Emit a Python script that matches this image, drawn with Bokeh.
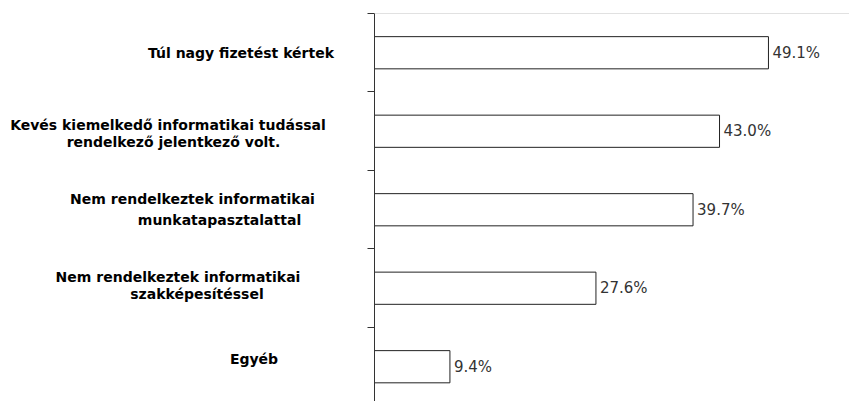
from bokeh.plotting import figure
from bokeh.layouts import row
from bokeh.models import Range1d, FixedTicker, Span, ColumnDataSource
from bokeh.core.properties import value
from bokeh.embed import file_html
from bokeh.resources import INLINE

# ---- data ----
categories = [
    "Túl nagy fizetést kértek",
    "Kevés kiemelkedő informatikai tudással rendelkező jelentkező volt.",
    "Nem rendelkeztek informatikai munkatapasztalattal",
    "Nem rendelkeztek informatikai szakképesítéssel",
    "Egyéb",
]
category_lines = [
    ["Túl nagy fizetést kértek"],
    ["Kevés kiemelkedő informatikai tudással", "rendelkező jelentkező volt."],
    ["Nem rendelkeztek informatikai", "munkatapasztalattal"],
    ["Nem rendelkeztek informatikai", "szakképesítéssel"],
    ["Egyéb"],
]
percentages = [49.1, 43.0, 39.7, 27.6, 9.4]
category_boundaries = [1, 2, 3, 4, 5]

# ---- label layout (styling in pixels: line centre x, vertical pixel offset; negative = up) ----
line_layout = [
    [(240.5, 0)],
    [(167.5, -6), (173, 11)],
    [(192, -11), (219, 10)],
    [(177.5, -11), (196.5, 6)],
    [(253.5, -8)],
]

n = len(categories)
ypos = [n - i - 0.5 for i in range(n)]
texts = [f"{v:.1f}%" for v in percentages]

y_range = Range1d(0.057, 5)
LEFT_W = 354

# ---- left panel: category labels ----
lx, ly, lt, lo = [], [], [], []
for yc, lines, lay in zip(ypos, category_lines, line_layout):
    for txt, (cx, dy) in zip(lines, lay):
        lx.append(cx)
        ly.append(yc)
        lt.append(txt)
        lo.append(dy)
lsrc = ColumnDataSource(dict(x=lx, y=ly, t=lt, o=lo))

left = figure(
    width=LEFT_W, height=401,
    x_range=Range1d(0, LEFT_W), y_range=y_range,
    x_axis_type=None, y_axis_type=None,
    min_border_left=0, min_border_right=0, min_border_top=13, min_border_bottom=0,
    output_backend="svg", toolbar_location=None,
)
left.grid.visible = False
left.outline_line_color = None
left.text(x="x", y="y", text="t", y_offset="o", source=lsrc,
          text_align="center", text_baseline="middle",
          text_font=value("DejaVu Sans"), text_font_style="bold",
          text_font_size="14px", text_color="black")

# ---- right panel: bars ----
src = ColumnDataSource(dict(y=ypos, v=percentages, t=texts, cat=categories))

p = figure(
    width=849 - LEFT_W, height=401,
    x_range=Range1d(0, 59.2), y_range=y_range,
    x_axis_type=None,
    min_border_left=20, min_border_right=0, min_border_top=13, min_border_bottom=0,
    output_backend="svg", toolbar_location=None,
)
p.grid.visible = False
p.outline_line_color = None

p.hbar(y="y", right="v", left=0, height=0.41, source=src,
       fill_color="white", line_color="#222222", line_width=1)

p.text(x="v", y="y", text="t", source=src, x_offset=4,
       text_align="left", text_baseline="middle",
       text_font=value("DejaVu Sans"), text_font_size="15px", text_color="#333333")

ax = p.yaxis[0]
ax.ticker = FixedTicker(ticks=category_boundaries)
ax.major_label_overrides = {t: "" for t in category_boundaries}
ax.major_label_standoff = 0
ax.major_tick_in = 0
ax.major_tick_out = 7
ax.minor_tick_in = 0
ax.minor_tick_out = 0
ax.axis_line_color = "#333333"
ax.major_tick_line_color = "#333333"

p.add_layout(Span(location=5, dimension="width", line_color="#c4c4c4", line_width=1))

layout = row(left, p, spacing=0)
open("out.html", "w").write(file_html(layout, INLINE))
